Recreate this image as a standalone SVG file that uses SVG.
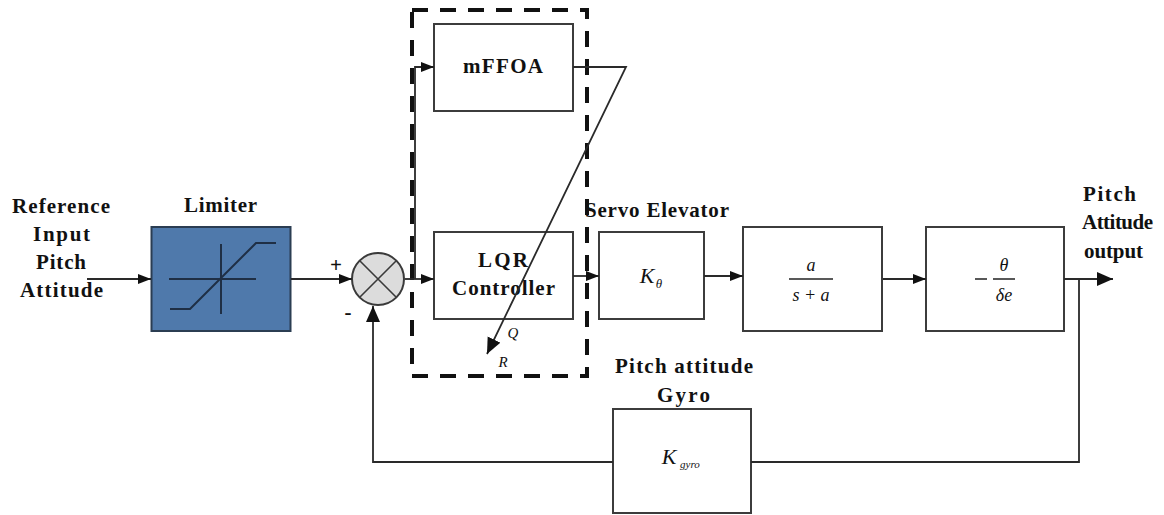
<svg xmlns="http://www.w3.org/2000/svg" width="1164" height="515" viewBox="0 0 1164 515">
<style>
text{font-family:"Liberation Serif","Times New Roman",serif;fill:#111;text-anchor:middle}
.b{font-size:21px;font-weight:bold}
.m{font-size:18px;font-style:italic}
.s{font-size:15px;font-style:italic}
.kl{font-size:22px;font-style:italic}
.sub{font-size:13px;font-style:italic}
.box{fill:#fff;stroke:#3c3c3c;stroke-width:2}
.c{fill:none;stroke:#2a2a2a;stroke-width:1.8}
.k{fill:none;stroke:#1f2f45;stroke-width:2}
.f{stroke:#222;stroke-width:1.5}
</style>
<defs>
<marker id="a" markerUnits="userSpaceOnUse" markerWidth="14" markerHeight="12" refX="13" refY="5" orient="auto"><path d="M0 0L13 5L0 10Z" fill="#111"/></marker>
<marker id="big" markerUnits="userSpaceOnUse" markerWidth="18" markerHeight="18" refX="16" refY="7" orient="auto"><path d="M0 0L16 7L0 14Z" fill="#111"/></marker>
</defs>
<g id="limiter">
<rect x="151.500" y="227" width="139" height="104" fill="#4f79ab" stroke="#2b3d52" stroke-width="2"/>
<path class="k" d="M169 279H256M221 244V314M170 309H190L256 243H276"/>
<text class="b" x="220.500" y="212" textLength="73">Limiter</text>
</g>
<g id="sum">
<circle cx="378" cy="279" r="26" fill="#dcdcdc" stroke="#3a3a3a" stroke-width="2"/>
<path d="M360 261L396 297M396 261L360 297" stroke="#3a3a3a" stroke-width="1.600"/>
<text class="b" x="336" y="272">+</text>
<text class="b" x="348" y="319">-</text>
</g>
<g id="mffoa">
<rect class="box" x="434" y="24" width="139" height="87"/>
<text class="b" x="503" y="73" textLength="80">mFFOA</text>
</g>
<g id="lqr">
<rect class="box" x="434" y="232" width="139" height="87"/>
<text class="b" x="503" y="267" textLength="50">LQR</text>
<text class="b" x="503.500" y="295" textLength="103">Controller</text>
</g>
<g id="group-border">
<rect x="412" y="10" width="175" height="366" fill="none" stroke="#111" stroke-width="4" stroke-dasharray="16 12"/>
</g>
<g id="servo">
<rect class="box" x="599" y="232" width="105" height="87"/>
<text class="kl" x="647" y="283">K</text>
<text class="sub" x="659" y="288">θ</text>
<text class="b" x="657" y="217" textLength="144">Servo Elevator</text>
</g>
<g id="actuator">
<rect class="box" x="743" y="227" width="139" height="104"/>
<text class="m" x="811" y="271">a</text>
<path class="f" d="M789 279H833"/>
<text class="m" x="811" y="301">s + a</text>
</g>
<g id="plant">
<rect class="box" x="926" y="227" width="138" height="104"/>
<text class="m" x="1004" y="271">θ</text>
<path class="f" d="M975 279H987M993 279H1015"/>
<text class="m" x="1004" y="301">δe</text>
</g>
<g id="gyro">
<rect class="box" x="613" y="409" width="138" height="104"/>
<text class="kl" x="669" y="464">K</text>
<text class="sub" x="690" y="468" style="font-size:11px">gyro</text>
<text class="b" x="684" y="373" textLength="138">Pitch attitude</text>
<text class="b" x="683.500" y="402" textLength="53">Gyro</text>
</g>
<g id="labels">
<text class="b" x="61" y="213" textLength="98">Reference</text>
<text class="b" x="61.500" y="241" textLength="57">Input</text>
<text class="b" x="61" y="269" textLength="50">Pitch</text>
<text class="b" x="61.500" y="297" textLength="83">Attitude</text>
<text class="b" x="1109.500" y="201" textLength="53">Pitch</text>
<text class="b" x="1117.500" y="229" textLength="71">Attitude</text>
<text class="b" x="1113.500" y="258" textLength="59">output</text>
<text class="s" x="513" y="338">Q</text>
<text class="s" x="503" y="367">R</text>
</g>
<g id="connectors">
<path class="c" marker-end="url(#a)" d="M87 279H151"/>
<path class="c" marker-end="url(#a)" d="M291 279H352"/>
<path class="c" marker-end="url(#a)" d="M405 279H434"/>
<path class="c" marker-end="url(#a)" d="M415 279V67H434"/>
<path class="c" marker-end="url(#big)" d="M573 67H626L487 354"/>
<path class="c" marker-end="url(#a)" d="M573 276H599"/>
<path class="c" marker-end="url(#a)" d="M704 276H743"/>
<path class="c" marker-end="url(#a)" d="M883 279H926"/>
<path class="c" marker-end="url(#big)" d="M1064 279H1113"/>
<path class="c" d="M1079 279V462H751"/>
<path class="c" marker-end="url(#big)" d="M613 462H373V306"/>
</g>
</svg>
